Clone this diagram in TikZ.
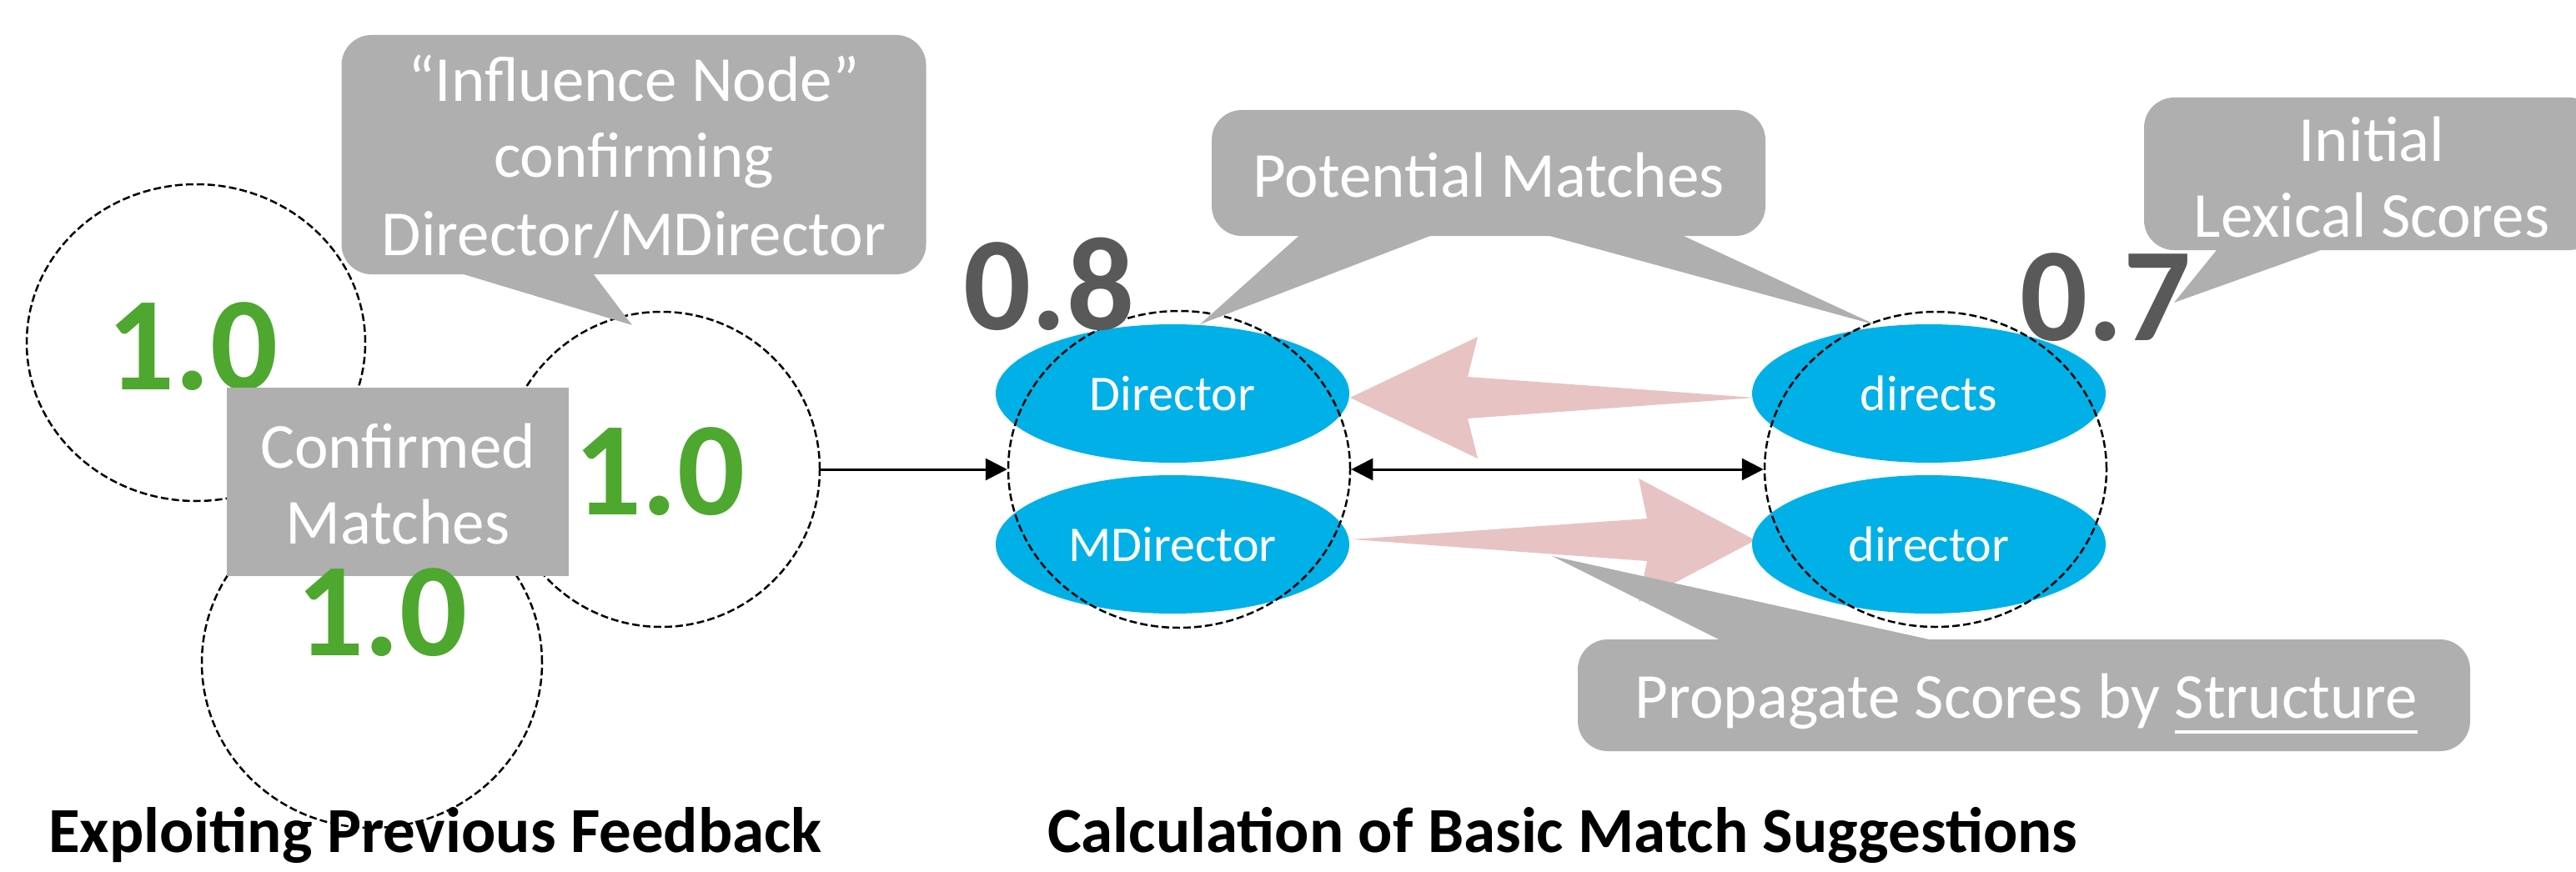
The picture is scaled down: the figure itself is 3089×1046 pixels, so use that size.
\documentclass[tikz,border=0pt]{standalone}
\usepackage{fontspec}
\setmainfont{Carlito}
\usetikzlibrary{arrows.meta,shapes.geometric}
\definecolor{cgray}{HTML}{AFAFAF}
\definecolor{egreen}{HTML}{4EA72E}
\definecolor{edark}{HTML}{595959}
\definecolor{ecyan}{HTML}{00B0E6}
\definecolor{epink}{HTML}{E8C3C3}
\newcommand{\ulword}[1]{\begingroup\setbox0\hbox{#1}\rlap{\rule[-19pt]{\wd0}{4pt}}\box0\endgroup}
\begin{document}
\begin{tikzpicture}[x=1pt,y=-1pt,
  dashcirc/.style={ellipse, draw=black, line width=2.5pt, dash pattern=on 9pt off 4pt, inner sep=0pt},
  blob/.style={ellipse, fill=ecyan, text=white, inner sep=0pt, minimum width=424pt, minimum height=166pt, font=\fontsize{60}{72}\selectfont},
  cbox/.style={fill=cgray, rounded corners=36pt, inner sep=0pt},
  sqbox/.style={fill=cgray, inner sep=0pt},
  ctext/.style={text=white, font=\fontsize{77}{92}\selectfont, anchor=base, inner sep=0pt},
  greennum/.style={text=egreen, font=\bfseries\fontsize{160}{190}\selectfont, anchor=base, inner sep=0pt},
  darknum/.style={text=edark, font=\bfseries\fontsize{160}{190}\selectfont, anchor=base, inner sep=0pt},
  title/.style={font=\bfseries\fontsize{77}{92}\selectfont, anchor=base west, inner sep=0pt},
  conn/.style={line width=3pt, -{Triangle[length=26pt,width=26pt]}},
  biconn/.style={line width=3pt, {Triangle[length=26pt,width=26pt]}-{Triangle[length=26pt,width=26pt]}},
  pinkarrow/.style={fill=epink},
  pointer/.style={fill=cgray}]
\useasboundingbox (0,0) rectangle (3089,1046);
\begin{scope}
\clip (0,0) rectangle (3089,1046);

% left group: dashed circles
\node[dashcirc, minimum width=406pt, minimum height=380pt] (cA) at (235,411) {};
\node[dashcirc, minimum width=408pt, minimum height=396pt] (cC) at (446,795) {};
\node[dashcirc, minimum width=380pt, minimum height=378pt] (cB) at (793,563) {};
\node[greennum] (nA) at (231,467) {1.0};
\node[greennum] (nB) at (791,617) {1.0};

% confirmed matches box
\node[sqbox, minimum width=410pt, minimum height=226pt] (conf) at (477,578) {};
\node[ctext] (confa) at (477,561) {Confirmed};
\node[ctext] (confb) at (477,652) {Matches};
\node[greennum] (nC) at (458,786) {1.0};

% influence node callout
\node[cbox, minimum width=701pt, minimum height=287pt] (infl) at (760,185.5) {};
\fill[pointer] (526,320) -- (705,320) -- (758,390) -- cycle;
\node[ctext] (infla) at (760,122) {“Influence Node”};
\node[ctext] (inflb) at (760,212) {confirming};
\node[ctext] (inflc) at (760,306) {Director/MDirector};

% pink propagation arrows
\fill[pinkarrow] (1619,477) -- (1772,404) -- (1760,452) -- (2104,477) -- (1760,502) -- (1772,550) -- cycle;
\fill[pinkarrow] (1621,647) -- (1975,622) -- (1965,574) -- (2105,648) -- (1965,722) -- (1975,673) -- cycle;

% element ellipses
\node[blob] (dirL) at (1406,472) {Director};
\node[blob] (mdirL) at (1406,653) {MDirector};
\node[blob] (dirsR) at (2313,472) {directs};
\node[blob] (dirR) at (2313,653) {director};
\node[dashcirc, minimum width=410pt, minimum height=380pt] (grpL) at (1414,563) {};
\node[dashcirc, minimum width=410pt, minimum height=378pt] (grpR) at (2321,563) {};

% connectors
\draw[conn] (cB.east) -- (grpL.west);
\draw[biconn] (grpL.east) -- (grpR.west);

% potential matches callout
\node[cbox, minimum width=664pt, minimum height=151pt] (pot) at (1785,207.5) {};
\fill[pointer] (1563,278) -- (1728,278) -- (1439,389) -- cycle;
\fill[pointer] (1840,278) -- (2008,278) -- (2250,390) -- cycle;
\node[ctext] (pottext) at (1785,236) {Potential Matches};

% propagate callout
\node[cbox, minimum width=1070pt, minimum height=134pt] (prop) at (2427,834) {};
\fill[pointer] (2071,772) -- (2336,772) -- (1861,667) -- cycle;
\node[ctext] (proptext) at (2430,861) {Propagate Scores by \ulword{Structure}};

% initial lexical scores callout
\node[cbox, minimum width=546pt, minimum height=183pt] (init) at (2844,208.5) {};
\fill[pointer] (2662,295) -- (2797,295) -- (2607,363) -- cycle;
\node[ctext] (inita) at (2844,193) {Initial};
\node[ctext] (initb) at (2844,284) {Lexical Scores};

% scores
\node[darknum] (s08) at (1258,395) {0.8};
\node[darknum] (s07) at (2525,408) {0.7};

% titles
\node[title] (t1) at (58,1022) {Exploiting Previous Feedback};
\node[title] (t2) at (1256,1022) {Calculation of Basic Match Suggestions};
\end{scope}
\end{tikzpicture}
\end{document}
